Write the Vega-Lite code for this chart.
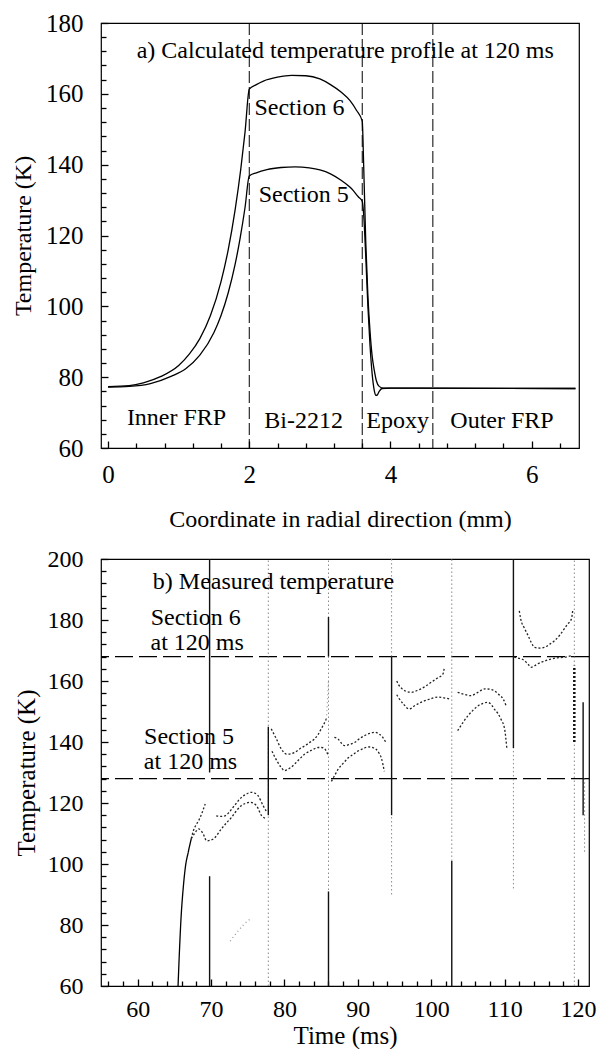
{
  "$schema": "https://vega.github.io/schema/vega-lite/v6.json",
  "padding": {"left": 10, "top": 10, "right": 5, "bottom": 0},
  "spacing": 14,
  "config": {
    "view": {"stroke": "black", "strokeWidth": 1.2},
    "axis": {"grid": false, "domain": false, "tickColor": "black", "tickWidth": 1.3, "labelColor": "black", "titleColor": "black", "labelFont": "Liberation Serif", "titleFont": "Liberation Serif", "titleFontWeight": "normal", "labelFlush": false, "labelBound": false, "labelOverlap": false, "zindex": 1},
    "text": {"font": "Liberation Serif", "color": "black"}
  },
  "datasets": {
    "vlinesA": [{"r": 2}, {"r": 3.6}, {"r": 4.6}],
    "profile": [
      {"s": "6", "r": 0, "T": 77.3}, {"s": "6", "r": 0.3, "T": 77.6}, {"s": "6", "r": 0.5, "T": 78.4}, {"s": "6", "r": 0.75, "T": 80.2}, {"s": "6", "r": 1.0, "T": 83.3}, {"s": "6", "r": 1.15, "T": 86.5}, {"s": "6", "r": 1.3, "T": 90.9}, {"s": "6", "r": 1.45, "T": 97.4}, {"s": "6", "r": 1.6, "T": 107.0}, {"s": "6", "r": 1.7, "T": 115.8}, {"s": "6", "r": 1.8, "T": 127.3}, {"s": "6", "r": 1.88, "T": 138.8}, {"s": "6", "r": 1.94, "T": 149.2}, {"s": "6", "r": 2.0, "T": 161.3}, {"s": "6", "r": 2.1, "T": 162.6}, {"s": "6", "r": 2.2, "T": 163.6}, {"s": "6", "r": 2.4, "T": 164.7}, {"s": "6", "r": 2.6, "T": 165.2}, {"s": "6", "r": 2.8, "T": 165.1}, {"s": "6", "r": 3.0, "T": 164.2}, {"s": "6", "r": 3.15, "T": 162.6}, {"s": "6", "r": 3.3, "T": 160.5}, {"s": "6", "r": 3.43, "T": 158}, {"s": "6", "r": 3.52, "T": 155.3}, {"s": "6", "r": 3.6, "T": 152.3}, {"s": "6", "r": 3.62, "T": 140}, {"s": "6", "r": 3.65, "T": 118}, {"s": "6", "r": 3.68, "T": 103}, {"s": "6", "r": 3.71, "T": 93}, {"s": "6", "r": 3.74, "T": 86}, {"s": "6", "r": 3.77, "T": 82}, {"s": "6", "r": 3.8, "T": 79}, {"s": "6", "r": 3.84, "T": 77.4}, {"s": "6", "r": 3.9, "T": 76.9}, {"s": "6", "r": 4.5, "T": 76.9}, {"s": "6", "r": 6.62, "T": 76.8},
      {"s": "5", "r": 0, "T": 77.2}, {"s": "5", "r": 0.3, "T": 77.4}, {"s": "5", "r": 0.6, "T": 78.2}, {"s": "5", "r": 0.9, "T": 80.3}, {"s": "5", "r": 1.1, "T": 82.4}, {"s": "5", "r": 1.3, "T": 86.2}, {"s": "5", "r": 1.5, "T": 92.6}, {"s": "5", "r": 1.6, "T": 97.4}, {"s": "5", "r": 1.7, "T": 103.7}, {"s": "5", "r": 1.8, "T": 111.9}, {"s": "5", "r": 1.87, "T": 119.2}, {"s": "5", "r": 1.94, "T": 127.9}, {"s": "5", "r": 2.0, "T": 136.8}, {"s": "5", "r": 2.1, "T": 137.7}, {"s": "5", "r": 2.25, "T": 138.6}, {"s": "5", "r": 2.45, "T": 139.2}, {"s": "5", "r": 2.65, "T": 139.4}, {"s": "5", "r": 2.85, "T": 139.1}, {"s": "5", "r": 3.0, "T": 138.5}, {"s": "5", "r": 3.15, "T": 137.4}, {"s": "5", "r": 3.3, "T": 135.6}, {"s": "5", "r": 3.45, "T": 133.2}, {"s": "5", "r": 3.55, "T": 130.8}, {"s": "5", "r": 3.6, "T": 129.7}, {"s": "5", "r": 3.62, "T": 126}, {"s": "5", "r": 3.65, "T": 114}, {"s": "5", "r": 3.68, "T": 100}, {"s": "5", "r": 3.71, "T": 89}, {"s": "5", "r": 3.74, "T": 81}, {"s": "5", "r": 3.77, "T": 76.3}, {"s": "5", "r": 3.79, "T": 74.9}, {"s": "5", "r": 3.81, "T": 74.9}, {"s": "5", "r": 3.84, "T": 76}, {"s": "5", "r": 3.88, "T": 76.8}, {"s": "5", "r": 4.0, "T": 76.9}, {"s": "5", "r": 6.62, "T": 76.8}
    ],
    "labelsA": [
      {"r": 3.36, "T": 172, "label": "a) Calculated temperature profile at 120 ms"},
      {"r": 2.71, "T": 156, "label": "Section 6"},
      {"r": 2.77, "T": 131.3, "label": "Section 5"},
      {"r": 0.97, "T": 68.5, "label": "Inner FRP"},
      {"r": 2.77, "T": 67.5, "label": "Bi-2212"},
      {"r": 4.1, "T": 67.5, "label": "Epoxy"},
      {"r": 5.58, "T": 67.5, "label": "Outer FRP"}
    ],
    "hlines": [{"T": 168}, {"T": 128}],
    "vsolid": [
      {"t": 69.8, "lo": 130, "hi": 200}, {"t": 69.8, "lo": 60, "hi": 96}, {"t": 77.8, "lo": 116, "hi": 145}, {"t": 86.0, "lo": 168, "hi": 181}, {"t": 86.0, "lo": 60, "hi": 91}, {"t": 94.6, "lo": 116, "hi": 168}, {"t": 102.8, "lo": 60, "hi": 101}, {"t": 111.2, "lo": 138, "hi": 200}, {"t": 120.7, "lo": 116, "hi": 153}
    ],
    "vheavy": [{"t": 119.5, "lo": 140, "hi": 165}],
    "vlight": [
      {"t": 77.8, "lo": 60, "hi": 200}, {"t": 86.0, "lo": 60, "hi": 200}, {"t": 94.6, "lo": 168, "hi": 200}, {"t": 94.6, "lo": 90, "hi": 116}, {"t": 102.8, "lo": 101, "hi": 200}, {"t": 111.2, "lo": 92, "hi": 138}, {"t": 119.5, "lo": 60, "hi": 200}, {"t": 120.9, "lo": 104, "hi": 128}
    ],
    "traces": [
      {"g": "r1", "k": "solid", "t": 65.5, "T": 60}, {"g": "r1", "k": "solid", "t": 65.7, "T": 72}, {"g": "r1", "k": "solid", "t": 65.9, "T": 82}, {"g": "r1", "k": "solid", "t": 66.2, "T": 92}, {"g": "r1", "k": "solid", "t": 66.5, "T": 99}, {"g": "r1", "k": "solid", "t": 66.9, "T": 104}, {"g": "r1", "k": "solid", "t": 67.3, "T": 108.3},
      {"g": "1u", "k": "dark", "t": 67.3, "T": 108.3}, {"g": "1u", "k": "dark", "t": 67.6, "T": 111}, {"g": "1u", "k": "dark", "t": 68.0, "T": 113}, {"g": "1u", "k": "dark", "t": 68.3, "T": 114.2}, {"g": "1u", "k": "dark", "t": 68.8, "T": 117}, {"g": "1u", "k": "dark", "t": 69.2, "T": 119.7},
      {"g": "1ub", "k": "dark", "t": 70.7, "T": 115.8}, {"g": "1ub", "k": "dark", "t": 71.3, "T": 115.6}, {"g": "1ub", "k": "dark", "t": 71.9, "T": 115.8}, {"g": "1ub", "k": "dark", "t": 72.4, "T": 116.8}, {"g": "1ub", "k": "dark", "t": 72.8, "T": 118}, {"g": "1ub", "k": "dark", "t": 73.4, "T": 119.8}, {"g": "1ub", "k": "dark", "t": 73.9, "T": 121.3}, {"g": "1ub", "k": "dark", "t": 74.7, "T": 122.8}, {"g": "1ub", "k": "dark", "t": 75.5, "T": 123.5}, {"g": "1ub", "k": "dark", "t": 76.0, "T": 123.2}, {"g": "1ub", "k": "dark", "t": 76.4, "T": 122.4}, {"g": "1ub", "k": "dark", "t": 77.1, "T": 119.1}, {"g": "1ub", "k": "dark", "t": 77.6, "T": 117},
      {"g": "1l", "k": "dark", "t": 67.3, "T": 108.3}, {"g": "1l", "k": "dark", "t": 67.8, "T": 110.2}, {"g": "1l", "k": "dark", "t": 68.3, "T": 111.5}, {"g": "1l", "k": "dark", "t": 68.9, "T": 110}, {"g": "1l", "k": "dark", "t": 69.4, "T": 107.6}, {"g": "1l", "k": "dark", "t": 70.3, "T": 108.2}, {"g": "1l", "k": "dark", "t": 71.4, "T": 111.5}, {"g": "1l", "k": "dark", "t": 72.1, "T": 113.5}, {"g": "1l", "k": "dark", "t": 72.8, "T": 115.3}, {"g": "1l", "k": "dark", "t": 73.4, "T": 117.3}, {"g": "1l", "k": "dark", "t": 74.1, "T": 119.1}, {"g": "1l", "k": "dark", "t": 74.7, "T": 119.9}, {"g": "1l", "k": "dark", "t": 75.3, "T": 120.2}, {"g": "1l", "k": "dark", "t": 75.8, "T": 119.9}, {"g": "1l", "k": "dark", "t": 76.2, "T": 119.1}, {"g": "1l", "k": "dark", "t": 76.9, "T": 115.8}, {"g": "1l", "k": "dark", "t": 77.6, "T": 114.8},
      {"g": "1x", "k": "light", "t": 72.6, "T": 74.7}, {"g": "1x", "k": "light", "t": 73.5, "T": 77.5}, {"g": "1x", "k": "light", "t": 74.4, "T": 80}, {"g": "1x", "k": "light", "t": 75.3, "T": 81.9},
      {"g": "2u", "k": "dark", "t": 78.2, "T": 144.3}, {"g": "2u", "k": "dark", "t": 78.9, "T": 141}, {"g": "2u", "k": "dark", "t": 79.5, "T": 138}, {"g": "2u", "k": "dark", "t": 80.3, "T": 136}, {"g": "2u", "k": "dark", "t": 81.4, "T": 136.6}, {"g": "2u", "k": "dark", "t": 82.1, "T": 137.8}, {"g": "2u", "k": "dark", "t": 82.8, "T": 138.8}, {"g": "2u", "k": "dark", "t": 83.4, "T": 139.8}, {"g": "2u", "k": "dark", "t": 84.1, "T": 141}, {"g": "2u", "k": "dark", "t": 84.6, "T": 142.5}, {"g": "2u", "k": "dark", "t": 85.0, "T": 144.3}, {"g": "2u", "k": "dark", "t": 85.4, "T": 146}, {"g": "2u", "k": "dark", "t": 85.7, "T": 147.5},
      {"g": "2s", "k": "light", "t": 85.7, "T": 147.5}, {"g": "2s", "k": "light", "t": 85.85, "T": 153}, {"g": "2s", "k": "light", "t": 86.0, "T": 160},
      {"g": "2l", "k": "dark", "t": 78.3, "T": 137}, {"g": "2l", "k": "dark", "t": 78.7, "T": 135}, {"g": "2l", "k": "dark", "t": 79.1, "T": 133.3}, {"g": "2l", "k": "dark", "t": 79.6, "T": 131.5}, {"g": "2l", "k": "dark", "t": 80.0, "T": 130.6}, {"g": "2l", "k": "dark", "t": 80.4, "T": 131}, {"g": "2l", "k": "dark", "t": 80.9, "T": 131.7}, {"g": "2l", "k": "dark", "t": 81.8, "T": 133.8}, {"g": "2l", "k": "dark", "t": 82.8, "T": 136.1}, {"g": "2l", "k": "dark", "t": 83.7, "T": 137.3}, {"g": "2l", "k": "dark", "t": 84.6, "T": 138.2}, {"g": "2l", "k": "dark", "t": 85.1, "T": 138.2}, {"g": "2l", "k": "dark", "t": 85.5, "T": 137.7}, {"g": "2l", "k": "dark", "t": 85.9, "T": 136},
      {"g": "3u", "k": "dark", "t": 86.8, "T": 141.5}, {"g": "3u", "k": "dark", "t": 87.3, "T": 141}, {"g": "3u", "k": "dark", "t": 87.8, "T": 139.5}, {"g": "3u", "k": "dark", "t": 88.2, "T": 138.8}, {"g": "3u", "k": "dark", "t": 88.9, "T": 139.2}, {"g": "3u", "k": "dark", "t": 89.6, "T": 139.9}, {"g": "3u", "k": "dark", "t": 90.3, "T": 141.2}, {"g": "3u", "k": "dark", "t": 90.9, "T": 142.1}, {"g": "3u", "k": "dark", "t": 91.6, "T": 142.8}, {"g": "3u", "k": "dark", "t": 92.3, "T": 143.2}, {"g": "3u", "k": "dark", "t": 92.9, "T": 142.6}, {"g": "3u", "k": "dark", "t": 93.4, "T": 141.5}, {"g": "3u", "k": "dark", "t": 93.9, "T": 139.5},
      {"g": "3l", "k": "dark", "t": 86.4, "T": 127.1}, {"g": "3l", "k": "dark", "t": 86.9, "T": 129.3}, {"g": "3l", "k": "dark", "t": 87.3, "T": 131}, {"g": "3l", "k": "dark", "t": 88.0, "T": 133}, {"g": "3l", "k": "dark", "t": 88.7, "T": 134.8}, {"g": "3l", "k": "dark", "t": 89.4, "T": 136}, {"g": "3l", "k": "dark", "t": 90.0, "T": 137}, {"g": "3l", "k": "dark", "t": 90.7, "T": 137.8}, {"g": "3l", "k": "dark", "t": 91.4, "T": 138.4}, {"g": "3l", "k": "dark", "t": 92.0, "T": 138.2}, {"g": "3l", "k": "dark", "t": 92.5, "T": 137.6}, {"g": "3l", "k": "dark", "t": 92.9, "T": 136.3}, {"g": "3l", "k": "dark", "t": 93.2, "T": 134.8}, {"g": "3l", "k": "dark", "t": 93.6, "T": 130.4},
      {"g": "4u", "k": "dark", "t": 95.3, "T": 160}, {"g": "4u", "k": "dark", "t": 95.5, "T": 159}, {"g": "4u", "k": "dark", "t": 96.0, "T": 157.5}, {"g": "4u", "k": "dark", "t": 96.4, "T": 156.8}, {"g": "4u", "k": "dark", "t": 97.3, "T": 156.3}, {"g": "4u", "k": "dark", "t": 98.0, "T": 156.8}, {"g": "4u", "k": "dark", "t": 98.6, "T": 157.4}, {"g": "4u", "k": "dark", "t": 99.3, "T": 158.4}, {"g": "4u", "k": "dark", "t": 100, "T": 159.6}, {"g": "4u", "k": "dark", "t": 100.8, "T": 160.9}, {"g": "4u", "k": "dark", "t": 101.6, "T": 162.3}, {"g": "4u", "k": "dark", "t": 101.8, "T": 164.6},
      {"g": "4l", "k": "dark", "t": 95.3, "T": 155.5}, {"g": "4l", "k": "dark", "t": 95.5, "T": 154.7}, {"g": "4l", "k": "dark", "t": 96.2, "T": 152.5}, {"g": "4l", "k": "dark", "t": 97, "T": 150.8}, {"g": "4l", "k": "dark", "t": 97.8, "T": 152}, {"g": "4l", "k": "dark", "t": 98.6, "T": 153}, {"g": "4l", "k": "dark", "t": 99.7, "T": 154}, {"g": "4l", "k": "dark", "t": 100.9, "T": 154.7}, {"g": "4l", "k": "dark", "t": 101.7, "T": 154.5}, {"g": "4l", "k": "dark", "t": 102.5, "T": 154.1},
      {"g": "5u", "k": "dark", "t": 103.6, "T": 156.3}, {"g": "5u", "k": "dark", "t": 104.5, "T": 155.6}, {"g": "5u", "k": "dark", "t": 105.4, "T": 155.2}, {"g": "5u", "k": "dark", "t": 106.3, "T": 156.2}, {"g": "5u", "k": "dark", "t": 107.3, "T": 157.4}, {"g": "5u", "k": "dark", "t": 108.0, "T": 157.3}, {"g": "5u", "k": "dark", "t": 108.6, "T": 156.8}, {"g": "5u", "k": "dark", "t": 109.2, "T": 155.6}, {"g": "5u", "k": "dark", "t": 109.8, "T": 154.1}, {"g": "5u", "k": "dark", "t": 110.2, "T": 151.9},
      {"g": "5l", "k": "dark", "t": 103.6, "T": 143.7}, {"g": "5l", "k": "dark", "t": 104.3, "T": 146.3}, {"g": "5l", "k": "dark", "t": 105, "T": 148.6}, {"g": "5l", "k": "dark", "t": 105.7, "T": 150.4}, {"g": "5l", "k": "dark", "t": 106.4, "T": 151.9}, {"g": "5l", "k": "dark", "t": 107.0, "T": 152.6}, {"g": "5l", "k": "dark", "t": 107.7, "T": 153}, {"g": "5l", "k": "dark", "t": 108.2, "T": 152.2}, {"g": "5l", "k": "dark", "t": 108.6, "T": 150.8}, {"g": "5l", "k": "dark", "t": 109.1, "T": 149.3}, {"g": "5l", "k": "dark", "t": 109.5, "T": 147.5}, {"g": "5l", "k": "dark", "t": 110, "T": 144.3}, {"g": "5l", "k": "dark", "t": 110.3, "T": 138},
      {"g": "6u", "k": "dark", "t": 112.0, "T": 183}, {"g": "6u", "k": "dark", "t": 112.2, "T": 180.3}, {"g": "6u", "k": "dark", "t": 112.7, "T": 177.3}, {"g": "6u", "k": "dark", "t": 113.2, "T": 174.9}, {"g": "6u", "k": "dark", "t": 113.6, "T": 172.8}, {"g": "6u", "k": "dark", "t": 114.1, "T": 171}, {"g": "6u", "k": "dark", "t": 114.8, "T": 170.8}, {"g": "6u", "k": "dark", "t": 115.4, "T": 171}, {"g": "6u", "k": "dark", "t": 116.1, "T": 172}, {"g": "6u", "k": "dark", "t": 116.8, "T": 173.2}, {"g": "6u", "k": "dark", "t": 117.5, "T": 175}, {"g": "6u", "k": "dark", "t": 118.1, "T": 177}, {"g": "6u", "k": "dark", "t": 118.6, "T": 178.7}, {"g": "6u", "k": "dark", "t": 119.1, "T": 180.3}, {"g": "6u", "k": "dark", "t": 119.3, "T": 183.6},
      {"g": "6l", "k": "dark", "t": 111.3, "T": 167.8}, {"g": "6l", "k": "dark", "t": 112.0, "T": 167.4}, {"g": "6l", "k": "dark", "t": 112.7, "T": 166.7}, {"g": "6l", "k": "dark", "t": 113.2, "T": 165.5}, {"g": "6l", "k": "dark", "t": 113.6, "T": 164.5}, {"g": "6l", "k": "dark", "t": 114.1, "T": 165}, {"g": "6l", "k": "dark", "t": 114.5, "T": 165.6}, {"g": "6l", "k": "dark", "t": 115.4, "T": 166.5}, {"g": "6l", "k": "dark", "t": 116.3, "T": 167.2}, {"g": "6l", "k": "dark", "t": 117.2, "T": 167.6}, {"g": "6l", "k": "dark", "t": 118.1, "T": 167.8}, {"g": "6l", "k": "dark", "t": 118.6, "T": 168}, {"g": "6l", "k": "dark", "t": 119.1, "T": 168.3}
    ],
    "labelsB": [
      {"t": 78.5, "T": 192.5, "label": "b) Measured temperature"},
      {"t": 67.9, "T": 180.8, "label": "Section 6"},
      {"t": 68.1, "T": 172.5, "label": "at 120 ms"},
      {"t": 67.0, "T": 141.7, "label": "Section 5"},
      {"t": 67.2, "T": 133.4, "label": "at 120 ms"}
    ]
  },
  "vconcat": [
    {
      "width": 478,
      "height": 425,
      "resolve": {"axis": {"x": "independent", "y": "independent"}},
      "layer": [
        {
          "data": {"name": "vlinesA"},
          "mark": {"type": "rule", "color": "black", "strokeWidth": 1, "strokeDash": [12, 4]},
          "encoding": {"x": {"field": "r", "type": "quantitative", "axis": null}}
        },
        {
          "data": {"name": "profile"},
          "mark": {"type": "line", "color": "black", "strokeWidth": 1.3, "interpolate": "monotone"},
          "encoding": {
            "x": {"field": "r", "type": "quantitative", "scale": {"domain": [-0.1, 6.67], "nice": false, "zero": false},
              "axis": {"orient": "bottom", "title": "Coordinate in radial direction (mm)", "titleFontSize": 24, "labelFontSize": 25, "titlePadding": 20,
                "ticks": true, "tickSize": 7, "offset": -7, "labelPadding": 14, "values": [0, 2, 4, 6]}},
            "y": {"field": "T", "type": "quantitative", "scale": {"domain": [60, 180], "nice": false, "zero": false},
              "axis": {"orient": "left", "title": "Temperature (K)", "titleFontSize": 24, "labelFontSize": 25, "titlePadding": 10,
                "ticks": true, "tickSize": 7, "offset": -7, "labelPadding": 18, "values": [60, 80, 100, 120, 140, 160, 180]}},
            "detail": {"field": "s"}
          }
        },
        {
          "data": {"name": "labelsA"},
          "mark": {"type": "text", "fontSize": 24, "baseline": "middle", "align": "center"},
          "encoding": {
            "x": {"field": "r", "type": "quantitative",
              "axis": {"orient": "bottom", "title": null, "labels": false, "ticks": true, "tickSize": 5, "offset": -5,
                "values": [0.4, 0.8, 1.2, 1.6, 2.4, 2.8, 3.2, 3.6, 4.4, 4.8, 5.2, 5.6, 6.4]}},
            "y": {"field": "T", "type": "quantitative",
              "axis": {"orient": "left", "title": null, "labels": false, "ticks": true, "tickSize": 5, "offset": -5,
                "values": [64, 68, 72, 76, 84, 88, 92, 96, 104, 108, 112, 116, 124, 128, 132, 136, 144, 148, 152, 156, 164, 168, 172, 176]}},
            "text": {"field": "label"}
          }
        }
      ]
    },
    {
      "width": 488,
      "height": 427,
      "resolve": {"axis": {"x": "independent", "y": "independent"}},
      "layer": [
        {
          "data": {"name": "hlines"},
          "mark": {"type": "rule", "color": "black", "strokeWidth": 1.2, "strokeDash": [18, 6]},
          "encoding": {"y": {"field": "T", "type": "quantitative", "axis": null}}
        },
        {
          "data": {"name": "vlight"},
          "mark": {"type": "rule", "color": "#8a8a8a", "strokeWidth": 1, "strokeDash": [1.5, 2.5]},
          "encoding": {"x": {"field": "t", "type": "quantitative", "axis": null}, "y": {"field": "lo", "type": "quantitative", "axis": null}, "y2": {"field": "hi"}}
        },
        {
          "data": {"name": "vsolid"},
          "mark": {"type": "rule", "color": "#111", "strokeWidth": 1.4},
          "encoding": {"x": {"field": "t", "type": "quantitative", "axis": null}, "y": {"field": "lo", "type": "quantitative", "axis": null}, "y2": {"field": "hi"}}
        },
        {
          "data": {"name": "vheavy"},
          "mark": {"type": "rule", "color": "#111", "strokeWidth": 2.5, "strokeDash": [2, 2]},
          "encoding": {"x": {"field": "t", "type": "quantitative", "axis": null}, "y": {"field": "lo", "type": "quantitative", "axis": null}, "y2": {"field": "hi"}}
        },
        {
          "data": {"name": "traces"},
          "mark": {"type": "line", "strokeWidth": 1.3, "interpolate": "monotone"},
          "encoding": {
            "x": {"field": "t", "type": "quantitative", "scale": {"domain": [55, 121.5], "nice": false, "zero": false},
              "axis": {"orient": "bottom", "title": "Time (ms)", "titleFontSize": 25, "labelFontSize": 24, "titlePadding": 2,
                "ticks": true, "tickSize": 7, "offset": -7, "labelPadding": 11, "values": [60, 70, 80, 90, 100, 110, 120]}},
            "y": {"field": "T", "type": "quantitative", "scale": {"domain": [60, 200], "nice": false, "zero": false},
              "axis": {"orient": "left", "title": "Temperature (K)", "titleFontSize": 25, "labelFontSize": 24, "titlePadding": 8,
                "ticks": true, "tickSize": 7, "offset": -7, "labelPadding": 18, "values": [60, 80, 100, 120, 140, 160, 180, 200]}},
            "detail": {"field": "g"},
            "color": {"field": "k", "type": "nominal", "scale": {"domain": ["solid", "dark", "light"], "range": ["#000000", "#222222", "#9a9a9a"]}, "legend": null},
            "strokeDash": {"field": "k", "type": "nominal", "scale": {"domain": ["solid", "dark", "light"], "range": [[1, 0], [2, 2], [1, 3]]}, "legend": null}
          }
        },
        {
          "data": {"name": "labelsB"},
          "mark": {"type": "text", "fontSize": 24, "baseline": "middle", "align": "center"},
          "encoding": {
            "x": {"field": "t", "type": "quantitative",
              "axis": {"orient": "bottom", "title": null, "labels": false, "ticks": true, "tickSize": 5, "offset": -5,
                "values": [56, 58, 62, 64, 66, 68, 72, 74, 76, 78, 82, 84, 86, 88, 92, 94, 96, 98, 102, 104, 106, 108, 112, 114, 116, 118]}},
            "y": {"field": "T", "type": "quantitative",
              "axis": {"orient": "left", "title": null, "labels": false, "ticks": true, "tickSize": 5, "offset": -5,
                "values": [64, 68, 72, 76, 84, 88, 92, 96, 104, 108, 112, 116, 124, 128, 132, 136, 144, 148, 152, 156, 164, 168, 172, 176, 184, 188, 192, 196]}},
            "text": {"field": "label"}
          }
        }
      ]
    }
  ]
}
